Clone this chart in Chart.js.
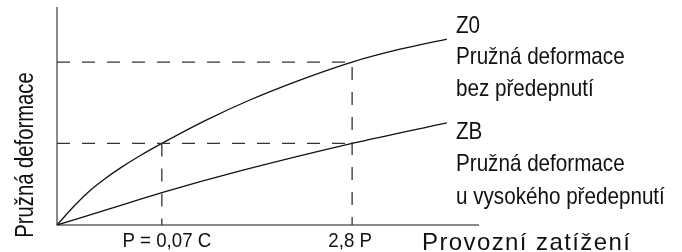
<!DOCTYPE html>
<html lang="cs">
<head>
<meta charset="utf-8">
<script src="https://cdn.jsdelivr.net/npm/chart.js@4.4.1/dist/chart.umd.min.js"></script>
<style>
  html, body { margin: 0; padding: 0; background: #fff; }
  #wrap { width: 682px; height: 252px; }
</style>
</head>
<body>
<div id="wrap"><canvas id="chart" width="682" height="252"></canvas></div>
<script>
// krivka Z0 - pruzna deformace bez predepnuti
const z0X = [0, 4.3, 7.8, 11.4, 15.0, 19.7, 24.9, 35.2, 45.8, 57.7, 70.1, 81.5, 92.6];
const z0Y = [0, 9.2, 15.8, 21.3, 26.2, 31.9, 37.6, 48.1, 57.6, 66.8, 75.1, 81.0, 85.7];

// krivka ZB - pruzna deformace u vysokeho predepnuti
const zbX = [0, 13.8, 24.9, 43.5, 70.1, 92.6];
const zbY = [0, 8.2, 14.9, 24.9, 37.6, 47.1];

// pomocne carkovane cary
const guideX = [24.9, 70.1];
const guideY = [37.6, 75.1];
const tickLabels = ["P = 0,07 C", "2,8 P"];

const yTitle = "Pružná deformace";
const xTitle = "Provozní zatížení";
const z0Label = ["Z0", "Pružná deformace", "bez předepnutí"];
const zbLabel = ["ZB", "Pružná deformace", "u vysokého předepnutí"];

const FONT = '"Liberation Sans", Arial, sans-serif';

function body(xs, ys) {
  return xs.map((x, i) => ({ x, y: ys[i] }));
}

function textScaled(ctx, text, x, y, size, sx, align) {
  ctx.save();
  ctx.font = `${size}px ${FONT}`;
  ctx.textAlign = align || "left";
  ctx.textBaseline = "alphabetic";
  ctx.translate(x, y);
  ctx.scale(sx, 1);
  ctx.fillText(text, 0, 0);
  ctx.restore();
}

// text s vetsimi mezerami mezi pismeny (kresleno po znacich)
function textSpaced(ctx, text, x, y, size, sx, mezera) {
  ctx.save();
  ctx.font = `${size}px ${FONT}`;
  ctx.textAlign = "left";
  ctx.textBaseline = "alphabetic";
  let px = x;
  for (const ch of text) {
    ctx.save();
    ctx.translate(px, y);
    ctx.scale(sx, 1);
    ctx.fillText(ch, 0, 0);
    ctx.restore();
    px += ctx.measureText(ch).width * sx + mezera;
  }
  ctx.restore();
}

const textyPlugin = {
  id: "texty",
  afterDraw(chart) {
    const ctx = chart.ctx;
    const sx = chart.scales.x;
    ctx.save();
    ctx.fillStyle = "#111";

    // popisky na ose x, na pozicich pomocnych car
    const posun = [5, -2];
    tickLabels.forEach((t, i) => {
      textScaled(ctx, t, sx.getPixelForValue(guideX[i]) + posun[i], 247, 21, 0.89, "center");
    });

    // popis osy y, otoceny
    ctx.save();
    ctx.translate(33, 155);
    ctx.rotate(-Math.PI / 2);
    textScaled(ctx, yTitle, 0, 0, 25, 0.81, "center");
    ctx.restore();

    // popis osy x
    textSpaced(ctx, xTitle, 422, 250, 24, 1.0, 1.4);

    // popisky krivek
    const z0Base = [33, 64, 96];
    const zbBase = [139, 171, 204];
    z0Label.forEach((t, i) => textScaled(ctx, t, 456, z0Base[i], 24, 0.86, "left"));
    zbLabel.forEach((t, i) => textScaled(ctx, t, 456, zbBase[i], 24, 0.86, "left"));

    ctx.restore();
  },
};

const krivka = {
  fill: false,
  borderColor: "#111",
  borderWidth: 1.3,
  pointRadius: 0,
  cubicInterpolationMode: "monotone",
};

const carky = {
  fill: false,
  borderColor: "#333",
  borderWidth: 1.3,
  borderDash: [13, 12],
  pointRadius: 0,
  tension: 0,
};

new Chart(document.getElementById("chart").getContext("2d"), {
  type: "line",
  plugins: [textyPlugin],
  data: {
    datasets: [
      { ...carky, data: [{ x: 0, y: guideY[1] }, { x: guideX[1], y: guideY[1] }, { x: guideX[1], y: 0 }] },
      { ...carky, data: [{ x: 0, y: guideY[0] }, { x: guideX[1], y: guideY[0] }] },
      { ...carky, data: [{ x: guideX[0], y: guideY[0] }, { x: guideX[0], y: 0 }] },
      { ...krivka, data: body(z0X, z0Y) },
      { ...krivka, data: body(zbX, zbY) },
    ],
  },
  options: {
    responsive: false,
    devicePixelRatio: 1,
    animation: false,
    layout: { padding: { left: 0, top: 8, right: 204, bottom: 0 } },
    plugins: { legend: { display: false }, tooltip: { enabled: false } },
    scales: {
      x: {
        type: "linear",
        min: 0,
        max: 100,
        grid: { display: false, drawTicks: false },
        border: { display: true, color: "#8a8a8a", width: 2 },
        ticks: { display: false },
        afterFit: (s) => { s.height = 27; },
      },
      y: {
        type: "linear",
        min: 0,
        max: 100,
        grid: { display: false, drawTicks: false },
        border: { display: true, color: "#8a8a8a", width: 2 },
        ticks: { display: false },
        afterFit: (s) => { s.width = 57; },
      },
    },
  },
});
</script>
</body>
</html>
